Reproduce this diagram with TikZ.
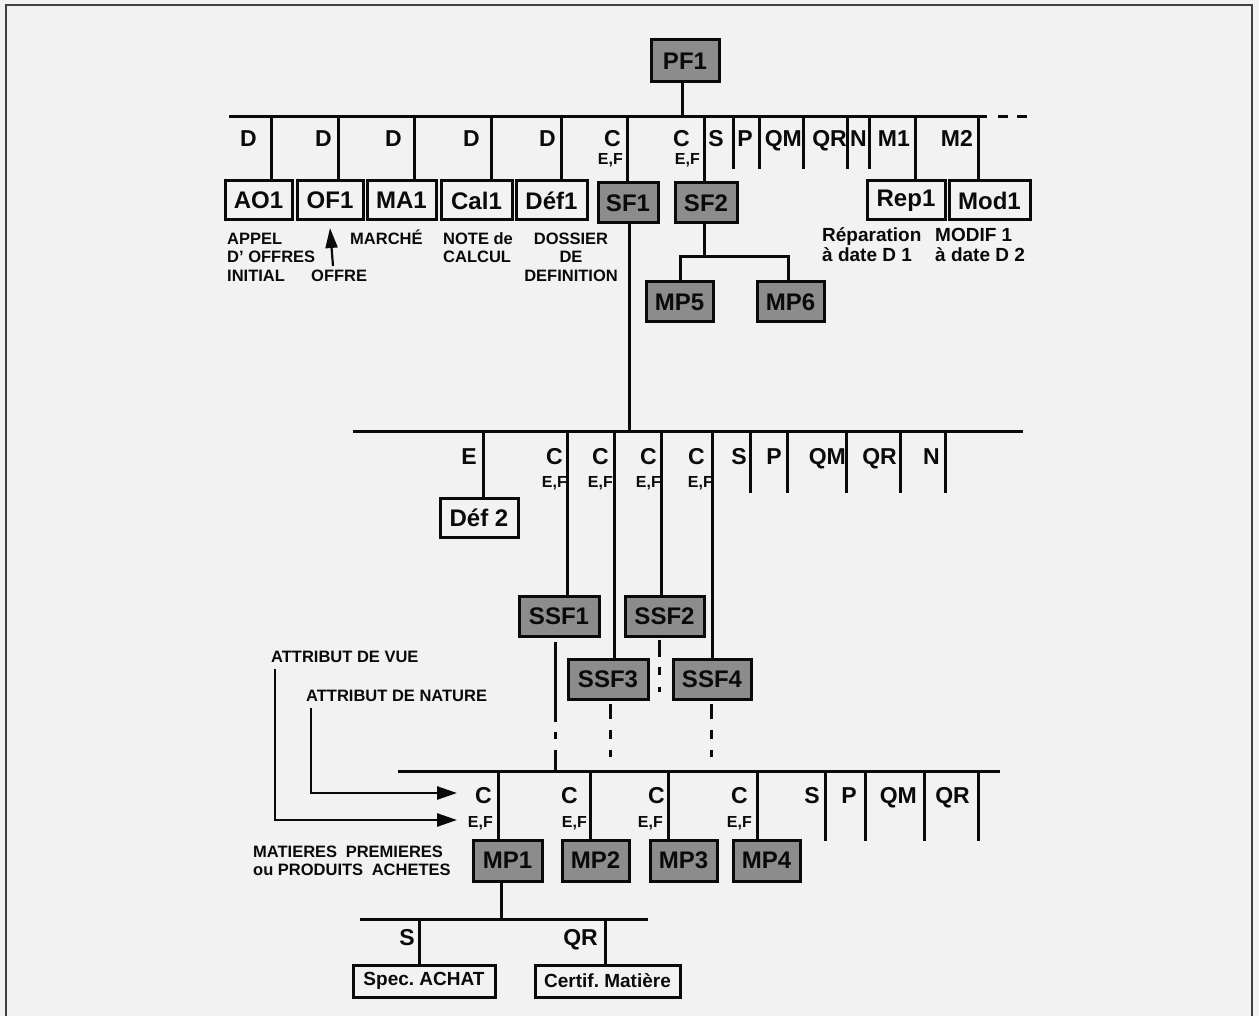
\documentclass[tikz,border=0pt]{standalone}
\usepackage{fontspec}
\setmainfont{Liberation Sans}
\usetikzlibrary{arrows.meta,calc}
\definecolor{bg}{RGB}{242,242,242}
\definecolor{boxgray}{RGB}{140,140,140}
\definecolor{ink}{RGB}{10,10,10}
\begin{document}
\begin{tikzpicture}[x=1pt,y=-1pt,
  ln/.style={line width=3pt, draw=ink, line join=miter},
  bx/.style={draw=ink, line width=3pt, inner sep=0pt, text=ink,
    font=\fontsize{24}{24}\selectfont\bfseries},
  wbox/.style={bx, fill=bg},
  gbox/.style={bx, fill=boxgray},
  lab/.style={font=\fontsize{23}{23}\selectfont\bfseries, inner sep=0pt, anchor=base east, text=ink},
  sub/.style={font=\fontsize{16}{16}\selectfont\bfseries, inner sep=0pt, anchor=base east, text=ink},
  captxt/.style={font=\fontsize{16.5}{16.5}\selectfont\bfseries, inner sep=0pt, anchor=base west, text=ink},
  captxtc/.style={captxt, anchor=base},
  captxtb/.style={font=\fontsize{19}{19}\selectfont\bfseries, inner sep=0pt, anchor=base west, text=ink},
  arr/.style={line width=2.6pt, draw=ink, line join=miter, -{Triangle[length=20pt,width=13pt]}},
]
\useasboundingbox (0,0) rectangle (1259,1016);
\fill[bg] (0,0) rectangle (1259,1016);
\draw[line width=2pt, draw=black!75] (6,1016) -- (6,5) -- (1252,5) -- (1252,1016);

% ---------- boxes ----------
\node[gbox, minimum width=68pt, minimum height=42pt] (PF1) at (685,61) {PF1};
\node[wbox, minimum width=67pt, minimum height=39pt] (AO1) at (258.5,200.5) {AO1};
\node[wbox, minimum width=66pt, minimum height=39pt] (OF1) at (330,200.5) {OF1};
\node[wbox, minimum width=69pt, minimum height=39pt] (MA1) at (401.5,200.5) {MA1};
\node[wbox, minimum width=71pt, minimum height=39pt] (Cal1) at (476.5,200.5) {Cal1};
\node[wbox, minimum width=71pt, minimum height=39pt] (Def1) at (551.5,200.5) {Déf1};
\node[gbox, minimum width=60pt, minimum height=40pt] (SF1) at (628,203) {SF1};
\node[gbox, minimum width=62pt, minimum height=40pt] (SF2) at (706,203) {SF2};
\node[wbox, minimum width=78pt, minimum height=39pt] (Rep1) at (906,200.5) {Rep1};
\node[wbox, minimum width=81pt, minimum height=39pt] (Mod1) at (989.5,200.5) {Mod1};
\node[gbox, minimum width=67pt, minimum height=40pt] (MP5) at (679.5,302) {MP5};
\node[gbox, minimum width=67pt, minimum height=40pt] (MP6) at (790.5,302) {MP6};
\node[wbox, minimum width=78pt, minimum height=39pt] (Def2) at (479,517.5) {Déf 2};
\node[gbox, minimum width=80pt, minimum height=40pt] (SSF1) at (559,616) {SSF1};
\node[gbox, minimum width=79pt, minimum height=40pt] (SSF2) at (664.5,616) {SSF2};
\node[gbox, minimum width=80pt, minimum height=40pt] (SSF3) at (608,679) {SSF3};
\node[gbox, minimum width=78pt, minimum height=40pt] (SSF4) at (712,679) {SSF4};
\node[gbox, minimum width=69pt, minimum height=41pt] (MP1) at (507.5,860.5) {MP1};
\node[gbox, minimum width=67pt, minimum height=41pt] (MP2) at (595.5,860.5) {MP2};
\node[gbox, minimum width=67pt, minimum height=41pt] (MP3) at (683.5,860.5) {MP3};
\node[gbox, minimum width=67pt, minimum height=41pt] (MP4) at (766.5,860.5) {MP4};
\node[wbox, minimum width=142pt, minimum height=32pt, font=\fontsize{19}{19}\selectfont\bfseries] (Spec) at (424,981) {Spec.\ ACHAT};
\node[wbox, minimum width=145pt, minimum height=32pt, font=\fontsize{19}{19}\selectfont\bfseries] (Cert) at (607.5,981) {Certif.\ Matière};

% ---------- top level ----------
\coordinate (t0) at (682,117);
\draw[ln] (t0 |- PF1.south) -- (t0);
\draw[ln] (229,117) -- (987,117);
\draw[ln] (998,117) -- (1008,117);
\draw[ln] (1017,117) -- (1027,117);
\foreach \x/\n in {271/AO1,338/OF1,414/MA1,491/Cal1,561/Def1,627/SF1,704/SF2,915/Rep1,978/Mod1}{
  \coordinate (td\n) at (\x,117);
  \draw[ln] (td\n) -- (td\n |- \n.north);
}
\foreach \x in {733,759,803,847,869}{
  \draw[ln] (\x,117) -- (\x,169);
}
\coordinate (j0) at (704,257);
\coordinate (j5) at (680,257);
\coordinate (j6) at (788,257);
\draw[ln] (j0 |- SF2.south) -- (j0);
\draw[ln] (j5 |- MP5.north) -- (j5) -- (j6) -- (j6 |- MP6.north);

% top labels
\node[lab] (lD1) at (257,147) {D};
\node[lab] (lD2) at (332,147) {D};
\node[lab] (lD3) at (402,147) {D};
\node[lab] (lD4) at (480,147) {D};
\node[lab] (lD5) at (556,147) {D};
\node[lab] (lC1) at (621,147) {C};
\node[sub] (lEF1) at (623,165) {E,F};
\node[lab] (lC2) at (690,147) {C};
\node[sub] (lEF2) at (700,165) {E,F};
\node[lab] (lS) at (724,147) {S};
\node[lab] (lP) at (753,147) {P};
\node[lab] (lQM) at (802,147) {QM};
\node[lab] (lQR) at (847,147) {QR};
\node[lab] (lN) at (867,147) {N};
\node[lab] (lM1) at (910,147) {M1};
\node[lab] (lM2) at (973,147) {M2};

% captions
\node[captxt] (c1) at (227,245) {APPEL};
\node[captxt] (c2) at (227,263) {D' OFFRES};
\node[captxt] (c3) at (227,282) {INITIAL};
\node[captxt] (c4) at (311,282) {OFFRE};
\node[captxt] (c5) at (350,245) {MARCHÉ};
\node[captxt] (c6) at (443,245) {NOTE de};
\node[captxt] (c7) at (443,263) {CALCUL};
\node[captxtc] (c8) at (571,245) {DOSSIER};
\node[captxtc] (c9) at (571,263) {DE};
\node[captxtc] (c10) at (571,282) {DEFINITION};
\node[captxtb] (c11) at (822,242) {Réparation};
\node[captxtb] (c12) at (822,262) {à date D 1};
\node[captxtb] (c13) at (935,242) {MODIF 1};
\node[captxtb] (c14) at (935,262) {à date D 2};
\coordinate (oa) at (333,266);
\coordinate (ob) at (330,228);
\draw[line width=2.2pt, draw=ink, -{Triangle[length=20pt,width=12pt]}] (oa) -- (ob);

% ---------- level 2 ----------
\coordinate (s0) at (629,431);
\draw[ln] (s0 |- SF1.south) -- (s0);
\draw[ln] (353,431) -- (1023,431);
\foreach \x/\n in {483/Def2,567/SSF1,614/SSF3,661/SSF2,712/SSF4}{
  \coordinate (sd\n) at (\x,431);
  \draw[ln] (sd\n) -- (sd\n |- \n.north);
}
\foreach \x in {750,787,846,900,945}{
  \draw[ln] (\x,431) -- (\x,493);
}
\node[lab] (mE) at (477,464) {E};
\node[lab] (mC1) at (563,464) {C};
\node[lab] (mC2) at (609,464) {C};
\node[lab] (mC3) at (657,464) {C};
\node[lab] (mC4) at (705,464) {C};
\node[sub] (mEF1) at (567,487) {E,F};
\node[sub] (mEF2) at (613,487) {E,F};
\node[sub] (mEF3) at (661,487) {E,F};
\node[sub] (mEF4) at (713,487) {E,F};
\node[lab] (mS) at (747,464) {S};
\node[lab] (mP) at (782,464) {P};
\node[lab] (mQM) at (846,464) {QM};
\node[lab] (mQR) at (897,464) {QR};
\node[lab] (mN) at (940,464) {N};

% ---------- below sub-subsets ----------
\coordinate (u1) at (555,771);
\coordinate (u2) at (659,692);
\coordinate (u3) at (610,757);
\coordinate (u4) at (711,757);
\draw[ln, dash pattern=on 80pt off 10pt on 7pt off 11pt on 60pt] ($(u1 |- SSF1.south)+(0,4)$) -- (u1);
\draw[ln, dash pattern=on 17pt off 10pt on 8pt off 12pt on 7pt off 100pt] ($(u2 |- SSF2.south)+(0,2)$) -- (u2);
\draw[ln, dash pattern=on 15pt off 11pt on 9pt off 11pt on 9pt off 100pt] ($(u3 |- SSF3.south)+(0,3)$) -- (u3);
\draw[ln, dash pattern=on 15pt off 11pt on 9pt off 11pt on 9pt off 100pt] ($(u4 |- SSF4.south)+(0,3)$) -- (u4);

% ---------- level 3 ----------
\draw[ln] (398,771) -- (1000,771);
\foreach \x/\n in {498/MP1,590/MP2,668/MP3,757/MP4}{
  \coordinate (pd\n) at (\x,771);
  \draw[ln] (pd\n) -- (pd\n |- \n.north);
}
\foreach \x in {825,865,924,978}{
  \draw[ln] (\x,771) -- (\x,841);
}
\node[lab] (pC1) at (492,803) {C};
\node[lab] (pC2) at (578,803) {C};
\node[lab] (pC3) at (665,803) {C};
\node[lab] (pC4) at (748,803) {C};
\node[sub] (pEF1) at (493,827) {E,F};
\node[sub] (pEF2) at (587,827) {E,F};
\node[sub] (pEF3) at (663,827) {E,F};
\node[sub] (pEF4) at (752,827) {E,F};
\node[lab] (pS) at (820,803) {S};
\node[lab] (pP) at (857,803) {P};
\node[lab] (pQM) at (917,803) {QM};
\node[lab] (pQR) at (970,803) {QR};

\node[captxt] (vue) at (271,662) {ATTRIBUT DE VUE};
\node[captxt] (nat) at (306,701) {ATTRIBUT DE NATURE};
\node[captxt] (mp1) at (253,857) {MATIERES\hspace{4pt} PREMIERES};
\node[captxt] (mp2) at (253,875) {ou PRODUITS\hspace{4pt} ACHETES};
\coordinate (va) at (275,669);
\coordinate (vb) at (457,820);
\coordinate (na) at (311,708);
\coordinate (nb) at (457,793);
\draw[arr] (va) |- (vb);
\draw[arr] (na) |- (nb);

% ---------- level 4 ----------
\coordinate (q0) at (501,919);
\draw[ln] (q0 |- MP1.south) -- (q0);
\draw[ln] (360,919) -- (648,919);
\coordinate (qS) at (419,919);
\coordinate (qQ) at (605,919);
\draw[ln] (qS) -- (qS |- Spec.north);
\draw[ln] (qQ) -- (qQ |- Cert.north);
\node[lab] (rS) at (415,945) {S};
\node[lab] (rQR) at (598,945) {QR};
\end{tikzpicture}
\end{document}
